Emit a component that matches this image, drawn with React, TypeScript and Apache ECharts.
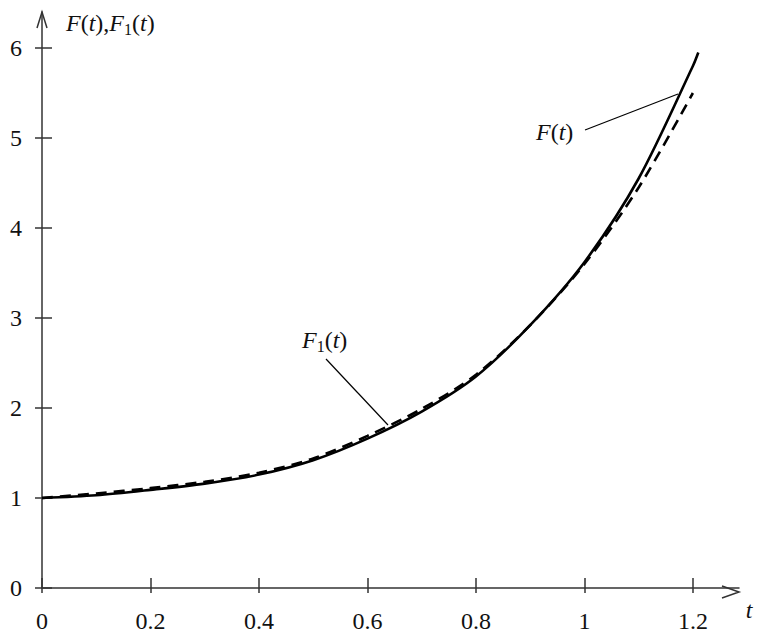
import React, { useEffect, useRef } from "react";
import * as echarts from "echarts";

const tF = [0, 0.1, 0.2, 0.3, 0.4, 0.5, 0.6, 0.7, 0.8, 0.9, 1.0, 1.1, 1.2, 1.21];
const fValues = [1.0, 1.03, 1.09, 1.16, 1.26, 1.42, 1.66, 1.96, 2.35, 2.92, 3.62, 4.55, 5.8, 5.95];
const tF1 = [0, 0.1, 0.2, 0.3, 0.4, 0.5, 0.6, 0.7, 0.8, 0.9, 1.0, 1.1, 1.2];
const f1Values = [1.0, 1.05, 1.11, 1.18, 1.28, 1.44, 1.69, 1.99, 2.37, 2.92, 3.6, 4.45, 5.5];
const xTicks = [0, 0.2, 0.4, 0.6, 0.8, 1, 1.2];
const yTicks = [0, 1, 2, 3, 4, 5, 6];

const FONT = "Liberation Serif";
const AXIS_COLOR = "#333";

export default function App() {
  const ref = useRef<HTMLDivElement>(null);
  useEffect(() => {
    if (!ref.current) return;
    const chart = echarts.init(ref.current, null, { renderer: "svg" });
    const labelStyle = { fontFamily: FONT, fontSize: 24, color: "#111" };
    const rich = {
      it: { fontFamily: FONT, fontSize: 24, fontStyle: "italic", fill: "#111" },
      n: { fontFamily: FONT, fontSize: 24, fill: "#111" },
      sub: { fontFamily: FONT, fontSize: 16, fill: "#111", padding: [12, 0, 0, 0] },
    };
    chart.setOption({
      animation: false,
      backgroundColor: "#fff",
      grid: { left: 42, right: 24, top: 12, bottom: 41, containLabel: false },
      xAxis: [
        {
          type: "value",
          min: 0,
          max: 1.285,
          position: "bottom",
          splitLine: { show: false },
          axisLine: { show: true, onZero: false, lineStyle: { color: AXIS_COLOR, width: 1.5 } },
          axisTick: { show: true, inside: true, length: 10, customValues: xTicks, lineStyle: { color: AXIS_COLOR, width: 1.5 } },
          axisLabel: { show: true, margin: 21, customValues: xTicks, ...labelStyle, formatter: (v: number) => String(v) },
        },
        {
          type: "value",
          min: 0,
          max: 1.285,
          position: "bottom",
          splitLine: { show: false },
          axisLine: { show: false },
          axisTick: { show: true, inside: false, length: 5, customValues: xTicks, lineStyle: { color: AXIS_COLOR, width: 1.5 } },
          axisLabel: { show: false },
        },
      ],
      yAxis: [
        {
          type: "value",
          min: 0,
          max: 6.4,
          position: "left",
          splitLine: { show: false },
          axisLine: { show: true, onZero: false, lineStyle: { color: AXIS_COLOR, width: 1.5 } },
          axisTick: { show: true, inside: true, length: 10, customValues: yTicks, lineStyle: { color: AXIS_COLOR, width: 1.5 } },
          axisLabel: { show: true, margin: 20, customValues: yTicks, ...labelStyle },
        },
        {
          type: "value",
          min: 0,
          max: 6.4,
          position: "left",
          splitLine: { show: false },
          axisLine: { show: false },
          axisTick: { show: true, inside: false, length: 7, customValues: yTicks, lineStyle: { color: AXIS_COLOR, width: 1.5 } },
          axisLabel: { show: false },
        },
      ],
      series: [
        {
          type: "line",
          name: "F(t)",
          xAxisIndex: 0,
          yAxisIndex: 0,
          data: tF.map((t, i) => [t, fValues[i]]),
          smooth: 0.3,
          showSymbol: false,
          lineStyle: { color: "#000", width: 2.6 },
          z: 3,
        },
        {
          type: "line",
          name: "F1(t)",
          xAxisIndex: 0,
          yAxisIndex: 0,
          data: tF1.map((t, i) => [t, f1Values[i]]),
          smooth: 0.3,
          showSymbol: false,
          lineStyle: { color: "#000", width: 2.6, type: [11, 7] },
          z: 4,
        },
      ],
      graphic: [
        {
          type: "polyline",
          shape: { points: [[722, 586], [739, 592], [722, 598]] },
          style: { stroke: AXIS_COLOR, lineWidth: 1.5, fill: "none" },
        },
        {
          type: "polyline",
          shape: { points: [[37, 28], [42, 12], [47, 28]] },
          style: { stroke: AXIS_COLOR, lineWidth: 1.5, fill: "none" },
        },
        {
          type: "text",
          x: 66,
          y: 23,
          style: {
            text: "{it|F}{n|(}{it|t}{n|),}{it|F}{sub|1}{n|(}{it|t}{n|)}",
            rich,
            verticalAlign: "middle",
            align: "left",
          },
        },
        {
          type: "text",
          x: 749,
          y: 610,
          style: { text: "{it|t}", rich, verticalAlign: "middle", align: "center" },
        },
        {
          type: "text",
          x: 536,
          y: 132,
          style: {
            text: "{it|F}{n|(}{it|t}{n|)}",
            rich,
            verticalAlign: "middle",
            align: "left",
          },
        },
        {
          type: "line",
          shape: { x1: 585, y1: 130, x2: 678, y2: 94 },
          style: { stroke: "#000", lineWidth: 1.2 },
        },
        {
          type: "text",
          x: 302,
          y: 340,
          style: {
            text: "{it|F}{sub|1}{n|(}{it|t}{n|)}",
            rich,
            verticalAlign: "middle",
            align: "left",
          },
        },
        {
          type: "line",
          shape: { x1: 326, y1: 359, x2: 388, y2: 425 },
          style: { stroke: "#000", lineWidth: 1.2 },
        },
      ],
    });
    return () => chart.dispose();
  }, []);
  return <div ref={ref} style={{ width: 763, height: 633, position: "absolute", left: 0, top: 0 }} />;
}
